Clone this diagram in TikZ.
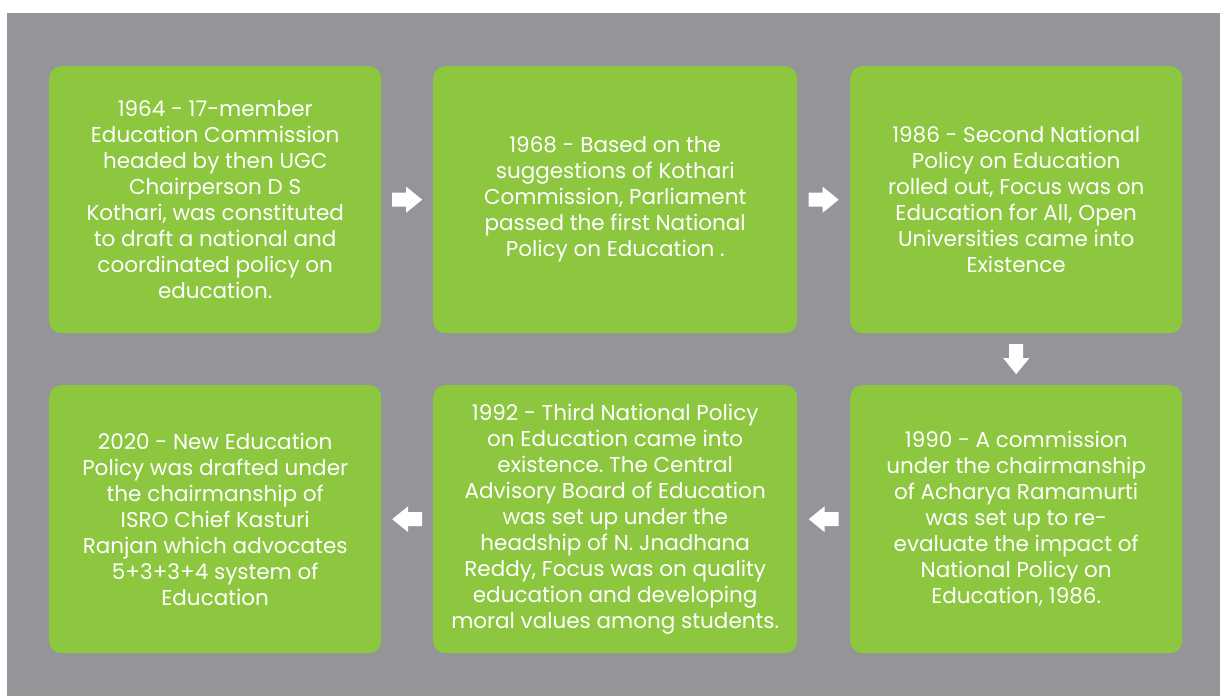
\documentclass[tikz,border=0pt]{standalone}
\usepackage{fontspec}
\setmainfont{Poppins}
\usetikzlibrary{calc}
\definecolor{panelgray}{RGB}{147,149,152}
\definecolor{leafgreen}{RGB}{141,198,63}
\tikzset{
  stepbox/.style={draw=none, fill=leafgreen, rounded corners=12pt,
    anchor=north west, inner sep=0pt, align=center, text=white,
    font=\fontsize{21.5pt}{26pt}\selectfont\frenchspacing},
  blockarrow/.pic={\fill[white] (-15,-7) -- (-1,-7) -- (-1,-13) -- (15,0)
    -- (-1,13) -- (-1,7) -- (-15,7) -- cycle;}
}
\begin{document}
\begin{tikzpicture}[x=1pt,y=-1pt]
\useasboundingbox (0,0) rectangle (1220,696);
% panel behind the timeline
\fill[panelgray] (7,13) rectangle (1220,696);

% top row
\node[stepbox, minimum width=332pt, minimum height=267pt] (b1964) at (49,66)
  {1964 - 17-member\\Education Commission\\headed by then UGC\\Chairperson D S\\Kothari, was constituted\\to draft a national and\\coordinated policy on\\education.};
\node[stepbox, minimum width=364pt, minimum height=267pt] (b1968) at (433,66)
  {1968 - Based on the\\suggestions of Kothari\\Commission, Parliament\\passed the first National\\Policy on Education .};
\node[stepbox, minimum width=332pt, minimum height=267pt] (b1986) at (850,66)
  {1986 - Second National\\Policy on Education\\rolled out, Focus was on\\Education for All, Open\\Universities came into\\Existence};

% bottom row
\node[stepbox, minimum width=332pt, minimum height=268pt] (b2020) at (49,385)
  {2020 - New Education\\Policy was drafted under\\the chairmanship of\\ISRO Chief Kasturi\\Ranjan which advocates\\5+3+3+4 system of\\Education};
\node[stepbox, minimum width=364pt, minimum height=268pt] (b1992) at (433,385)
  {1992 - Third National Policy\\on Education came into\\existence. The Central\\Advisory Board of Education\\was set up under the\\headship of N. Jnadhana\\Reddy, Focus was on quality\\education and developing\\moral values among students.};
\node[stepbox, minimum width=332pt, minimum height=268pt] (b1990) at (850,385)
  {1990 - A commission\\under the chairmanship\\of Acharya Ramamurti\\was set up to re-\\evaluate the impact of\\National Policy on\\Education, 1986.};

% arrows between consecutive steps
\pic at ($(b1964.east)!0.5!(b1968.west)$) {blockarrow};
\pic at ($(b1968.east)!0.5!(b1986.west)$) {blockarrow};
\pic[rotate=-90] at ($(b1986.south)!0.5!(b1990.north)$) {blockarrow};
\pic[rotate=180] at ($(b1990.west)!0.5!(b1992.east)$) {blockarrow};
\pic[rotate=180] at ($(b1992.west)!0.5!(b2020.east)$) {blockarrow};
\end{tikzpicture}
\end{document}
